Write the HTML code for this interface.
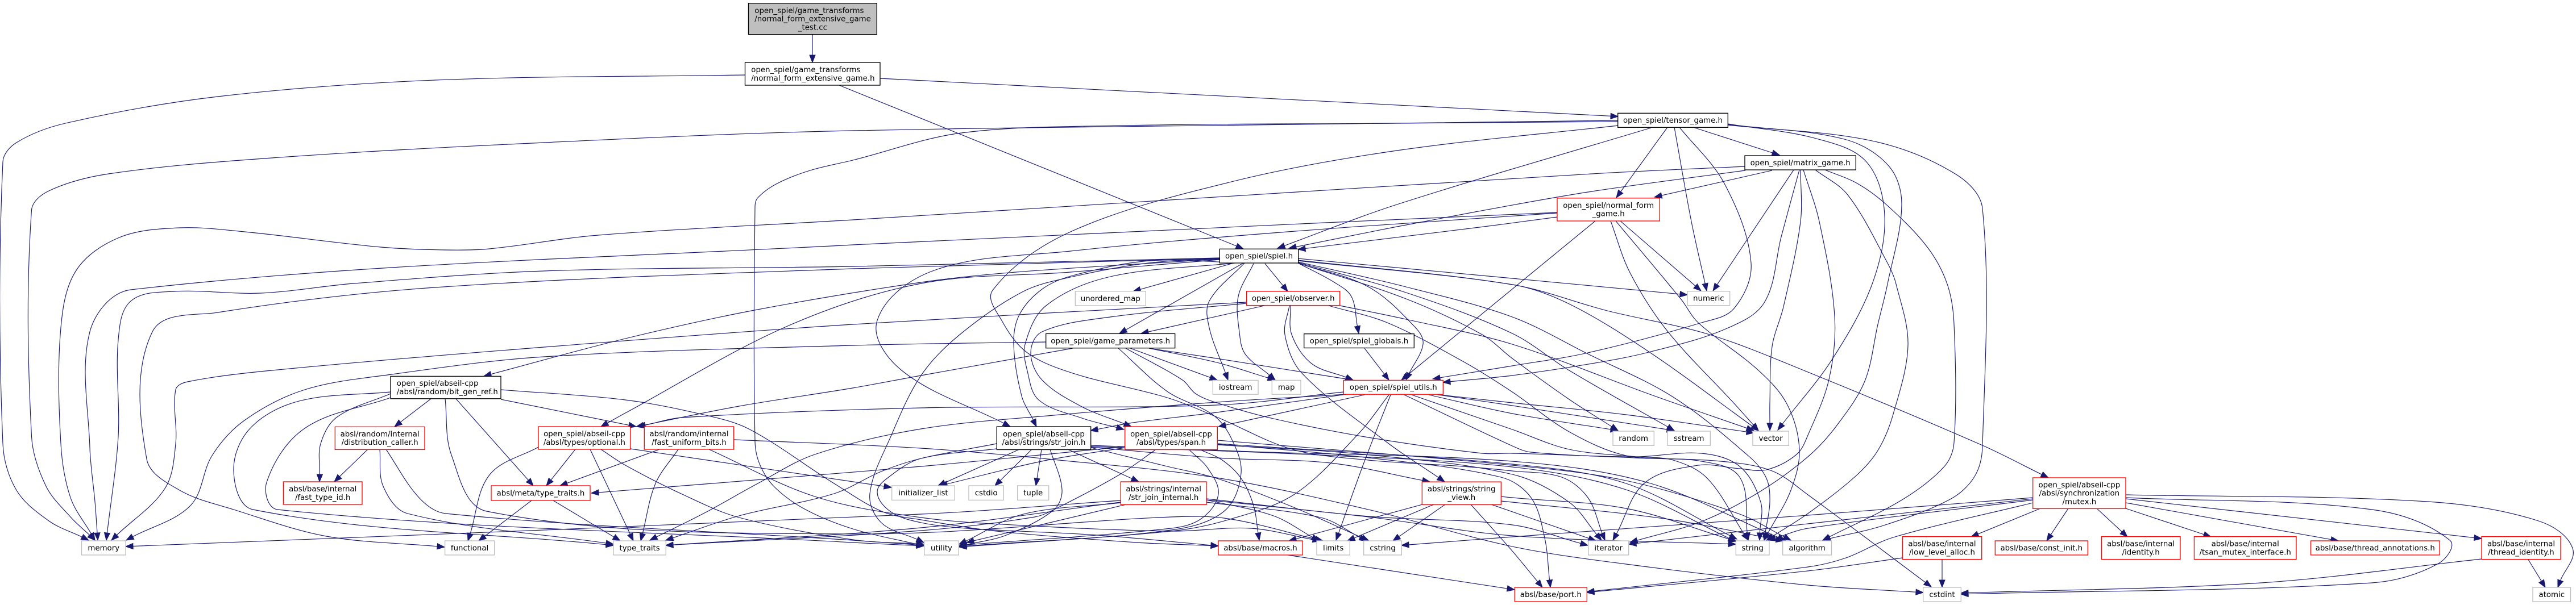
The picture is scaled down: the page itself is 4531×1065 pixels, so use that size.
<!DOCTYPE html>
<html lang="en">
<head>
<meta charset="utf-8">
<title>open_spiel normal_form_extensive_game_test.cc include graph</title>
<style>
html,body{margin:0;padding:0;background:#fff;}
svg{display:block;}
text{font-family:"DejaVu Sans",sans-serif;font-size:13.33px;fill:#000;}
</style>
</head>
<body>
<svg id="graph" xmlns="http://www.w3.org/2000/svg" width="4531" height="1065" viewBox="0 0 4531 1065">
<rect x="0" y="0" width="4531" height="1065" fill="#ffffff"/>
<g id="edges"></g>
<g id="nodes"></g>
</svg>
<script>
// kind: f = focus file (grey fill), k = black border, r = red border (truncated), g = grey border (system header)
const nodes = [
['test',['open_spiel/game_transforms','/normal_form_extensive_game','_test.cc'],'f',1316.5,5.7,1542.3,60.7,'lc'],
['nfeg',['open_spiel/game_transforms','/normal_form_extensive_game.h'],'k',1310.5,110,1548,150,'l'],
['tensor',['open_spiel/tensor_game.h'],'k',2845.7,199.3,3039.3,224.3],
['matrix',['open_spiel/matrix_game.h'],'k',3069,274,3264.3,299],
['normal',['open_spiel/normal_form','_game.h'],'r',2739,348.7,2919.3,389],
['spiel',['open_spiel/spiel.h'],'k',2145.3,438.3,2283.7,463],
['unordered-map',['unordered_map'],'g',1891.3,512.7,2015.3,538],
['observer',['open_spiel/observer.h'],'r',2192.7,512.8,2356.7,537.6],
['numeric',['numeric'],'g',2968,512.7,3042.7,537.7],
['params',['open_spiel/game_parameters.h'],'k',1839.7,587.4,2066.7,612.7],
['globals',['open_spiel/spiel_globals.h'],'k',2293.7,587.7,2487.3,612.5],
['iostream',['iostream'],'g',2133.3,669.4,2213,694.2],
['map',['map'],'g',2237.3,669.4,2288,694.2],
['utils',['open_spiel/spiel_utils.h'],'r',2363.3,669.4,2538.3,694.2],
['bitgen',['open_spiel/abseil-cpp','/absl/random/bit_gen_ref.h'],'k',687,662.4,881,701.8,'l'],
['dist',['absl/random/internal','/distribution_caller.h'],'r',589.3,751.4,747,791.4],
['optional',['open_spiel/abseil-cpp','/absl/types/optional.h'],'r',947,751,1108.8,791],
['fuid',['absl/random/internal','/fast_uniform_bits.h'],'r',1133.3,751,1290.7,791],
['str-join',['open_spiel/abseil-cpp','/absl/strings/str_join.h'],'k',1753.3,751,1918.7,791.5],
['span',['open_spiel/abseil-cpp','/absl/types/span.h'],'r',1978.7,751,2141.3,791.5],
['random',['random'],'g',2837,759,2909.3,784.3],
['sstream',['sstream'],'g',2933,759,3008.3,784.3],
['vector',['vector'],'g',3083,759,3146.3,784.3],
['ftid',['absl/base/internal','/fast_type_id.h'],'r',498.4,848,637,888],
['metatt',['absl/meta/type_traits.h'],'r',864,855,1038,881],
['initlist',['initializer_list'],'g',1568.7,855,1679.3,880.4],
['cstdio',['cstdio'],'g',1704,855,1765.3,880.4],
['tuple',['tuple'],'g',1789.7,855,1844.7,880.4],
['sji',['absl/strings/internal','/str_join_internal.h'],'r',1971.3,848,2122,888.3],
['sv',['absl/strings/string','_view.h'],'r',2501.3,848.2,2640.3,888.2],
['mutex',['open_spiel/abseil-cpp','/absl/synchronization','/mutex.h'],'r',3575.7,841,3739,895.4],
['memory',['memory'],'g',143.5,952,221,977],
['functional',['functional'],'g',782.6,952,869.6,977],
['type-traits',['type_traits'],'g',1079,952,1171.3,977],
['utility',['utility'],'g',1625.7,952,1686.3,977],
['macros',['absl/base/macros.h'],'r',2143,952,2291,977],
['limits',['limits'],'g',2316,952,2374.3,977],
['cstring',['cstring'],'g',2398.7,952,2465.3,977],
['iterator',['iterator'],'g',2793.7,952,2864.7,977],
['string',['string'],'g',3053.3,952,3112,977],
['algorithm',['algorithm'],'g',3135.7,952,3221.5,977],
['lla',['absl/base/internal','/low_level_alloc.h'],'r',3346.3,944.6,3485.7,984.6],
['const-init',['absl/base/const_init.h'],'r',3509.3,952,3672.3,977],
['identity',['absl/base/internal','/identity.h'],'r',3696.3,944.6,3835,984.6],
['tsan',['absl/base/internal','/tsan_mutex_interface.h'],'r',3859.4,944.6,4039,984.6],
['annotations',['absl/base/thread_annotations.h'],'r',4064.5,952,4291,977],
['thread-identity',['absl/base/internal','/thread_identity.h'],'r',4365,944.6,4504,984.6],
['port',['absl/base/port.h'],'r',2664.3,1034,2791.3,1059],
['cstdint',['cstdint'],'g',3382.7,1034,3449.3,1059],
['atomic',['atomic'],'g',4455,1034,4521.5,1059]
];

// each edge: source, target, route through the layout ending at the arrow tip
const edges = [
['test','nfeg',[1429,61,1429,110]],
['nfeg','memory',[1310,132,765,141,383,170,115,217,29,251,5,285,5,781,29,863,86,917,156,951]],
['nfeg','tensor',[1548,138,2846,205]],
['nfeg','spiel',[1476,150,2187,438]],

['tensor','memory',[2846,212,1500,230,957,251,478,278,191,306,86,336,55.5,370,55.5,768,81,856,124,910,167,951]],
['tensor','utility',[2846,214,2457,217,1978,221,1691,234,1500,282,1425,300,1367,323,1333,348,1328,364,1328,777,1337,819,1363,858,1417,897,1500,931,1625,961]],
['tensor','normal',[2933,224,2843,348]],
['tensor','numeric',[2945,224,2975,390,3002,512]],
['tensor','matrix',[2978,224,3130,273]],
['tensor','spiel',[2904,225,2457,360,2247,437]],
['tensor','utils',[2954,224,3033,323,3080,463,3050,543,2993,568,2793,621,2660,644,2520,667]],
['tensor','vector',[3039,218,3195,244,3283,285,3315,380,3293,500,3223,632,3127,757]],
['tensor','iterator',[3039,219,3244,245,3322,292,3345,360,3320,500,3303,571,3280,671,3230,750,3180,804,3093,867,2993,918,2867,955]],
['tensor','algorithm',[3039,220,3293,248,3439,306,3487,367,3487,786,3473,839,3430,879,3313,925,3206,951]],
['tensor','iterator',[2846,221,2457,265,2170,319,1883,408,1746,511,1763,566,1807,621,1887,657,2053,700,2140,734,2273,791,2407,810,2573,821,2660,829,2747,840,2793,876,2823,951]],

['matrix','memory',[3069,293,2800,306,1500,387,1052,414,861,438,784,440,670,435,430,408,316,401,210,418,134,476,107,577,107,781,124,876,167,951]],
['matrix','normal',[3117,300,2910,347]],
['matrix','spiel',[3070,300,2800,337,2600,372,2452,400,2267,437]],
['matrix','numeric',[3155,299,3013,512]],
['matrix','utils',[3165,299,3133,417,3103,533,3033,580,2900,620,2800,640,2660,661,2538,673]],
['matrix','vector',[3167,299,3167,390,3137,540,3117,610,3113,710,3113,758]],
['matrix','iterator',[3172,299,3200,390,3227,557,3217,668,3180,766,3160,800,3107,827,3060,825,2987,819,2893,850,2837,951]],
['matrix','string',[3193,299,3250,343,3320,463,3335,500,3356,607,3330,729,3303,793,3263,839,3180,904,3107,951]],
['matrix','algorithm',[3210,299,3267,323,3320,362,3390,435,3425,500,3437,571,3437,779,3420,821,3347,879,3206,951]],

['normal','numeric',[2850,389,2992,512]],
['normal','vector',[2833,389,2867,480,2933,583,3050,710,3093,758]],
['normal','string',[2842,389,2957,527,2987,568,3093,652,3143,711,3165,791,3150,863,3103,951]],
['normal','utils',[2806,389,2465,669]],
['normal','spiel',[2739,382,2602,400,2283,439]],
['normal','memory',[2739,374,1500,431,230,510,158,584,158,788,167,883,172,951]],
['normal','str-join',[2739,375,2265,408,1883,442,1643,476,1543,564,1586,652,1777,751]],

['spiel','memory',[2145,454,1500,469,957,477,622,499,459,516,306,513,230,530,208,598,208,768,187,951]],
['spiel','functional',[2145,455,1500,473,765,506,383,550,268,584,258,808,316,863,411,897,574,944,782,963]],
['spiel','utility',[2145,455,2020,463,1887,487,1800,513,1687,590,1620,661,1567,768,1530,869,1550,920,1625,955]],
['spiel','bitgen',[2145,456,1787,479,1620,497,1327,546,1100,596,851,662]],
['spiel','optional',[2145,457,1883,479,1620,499,1383,575,1100,727,1057,751]],
['spiel','params',[2187,463,1969,587]],
['spiel','unordered-map',[2170,463,1993,513]],
['spiel','iostream',[2189,463,2127,530,2127,577,2160,669]],
['spiel','map',[2205,464,2178,522,2180,585,2190,623,2243,669]],
['spiel','observer',[2225,464,2265,513]],
['spiel','globals',[2283,463,2347,497,2377,522,2390,587]],
['spiel','utils',[2283,463,2407,505,2490,577,2503,606,2473,669]],
['spiel','numeric',[2283,455,2660,490,2968,519]],
['spiel','mutex',[2283,458,2660,501,2827,547,3007,589,3180,655,3487,784,3603,841]],
['spiel','vector',[2283,459,2660,501,2760,535,2900,619,3093,758]],
['spiel','string',[2283,461,2473,505,2660,558,2793,623,2943,699,3077,804,3107,842,3113,884,3103,951]],
['spiel','sstream',[2283,462,2473,515,2660,587,2760,652,2945,758]],
['spiel','random',[2283,463,2473,526,2607,589,2660,631,2760,703,2846,758]],
['spiel','str-join',[2187,463,2023,459,1887,485,1833,509,1793,554,1783,606,1797,697,1823,751]],
['spiel','span',[2172,463,1953,487,1840,538,1803,606,1807,653,1827,704,1903,736,1977,756]],

['observer','memory',[2192,532,1500,571,957,611,478,652,330,672,309,686,309,781,290,860,196,951]],
['observer','params',[2224,538,2007,587]],
['observer','span',[2192,534,1953,558,1833,584,1813,621,1833,669,1903,716,1990,751]],
['observer','vector',[2357,538,2473,562,2660,606,2910,697,3085,758]],
['observer','string',[2337,538,2440,568,2573,636,2660,690,2760,760,2860,802,2993,812,3060,840,3075,951]],
['observer','utils',[2270,538,2272,589,2307,640,2380,669]],
['observer','sv',[2268,538,2260,589,2290,657,2440,779,2541,848]],

['params','memory',[1840,602,1500,608,957,628,689,659,536,686,430,740,373,802,335,890,222,951]],
['params','iostream',[1988,613,2141,669]],
['params','map',[2021,613,2140,638,2243,669]],
['params','utils',[2021,613,2140,631,2380,669]],
['params','optional',[1887,613,1620,661,1500,683,1300,715,1119,751]],
['params','string',[1980,613,2080,669,2103,693,2140,709,2240,737,2407,770,2607,798,2660,798,2877,804,2993,798,3060,821,3097,884,3095,951]],
['params','utility',[1967,613,2053,689,2133,730,2165,770,2183,833,2153,900,2060,933,1687,962]],
['globals','utils',[2400,613,2443,669]],

['utils','type-traits',[2370,694,2140,708,1853,731,1620,755,1433,800,1333,851,1243,901,1143,951]],
['utils','optional',[2363,690,2140,713,1620,718,1200,735,1122,751]],
['utils','str-join',[2368,694,2140,726,1993,744,1918,758]],
['utils','span',[2400,695,2143,751]],
['utils','limits',[2446,695,2400,812,2350,951]],
['utils','utility',[2443,695,2390,763,2277,870,2160,915,2060,935,1687,963]],
['utils','random',[2513,695,2660,728,2846,758]],
['utils','sstream',[2530,695,2660,714,2945,758]],
['utils','vector',[2533,695,2660,709,2860,730,3085,762]],
['utils','string',[2483,695,2660,756,2760,791,2877,804,2943,810,3003,842,3075,951]],
['utils','cstdint',[2470,695,2660,785,2693,796,2877,806,3027,812,3117,829,3180,871,3397,1033]],

['bitgen','type-traits',[687,690,526,706,440,754,411,829,445,897,1079,960]],
['bitgen','ftid',[687,693,593,734,564,781,562,848]],
['bitgen','utility',[687,700,536,754,469,849,488,897,1500,955,1625,961]],
['bitgen','macros',[881,686,1100,704,1233,729,1317,755,1467,851,1553,901,1620,915,1753,935,2000,955,2143,961]],
['bitgen','fuid',[881,703,1119,751]],
['bitgen','metatt',[802,702,938,855]],
['bitgen','dist',[758,702,694,751]],
['bitgen','limits',[783,702,794,801,856,900,1500,940,2060,910,2160,913,2327,952]],

['dist','ftid',[647,791,588,848]],
['dist','type-traits',[668,791,674,856,717,904,1079,958]],
['dist','utility',[679,791,737,876,784,904,1500,951,1625,960]],

['optional','functional',[947,787,861,836,823,952]],
['optional','metatt',[1012,791,961,855]],
['optional','type-traits',[1038,791,1114,952]],
['optional','initlist',[1109,790,1568,858]],
['optional','utility',[1057,791,1100,819,1200,870,1300,911,1500,950,1625,958]],

['fuid','metatt',[1160,791,985,855]],
['fuid','type-traits',[1193,791,1153,851,1127,952]],
['fuid','limits',[1247,791,1433,874,1620,911,1800,925,2060,935,2200,930,2322,952]],
['fuid','cstdint',[1291,774,1620,789,1853,809,2140,841,2407,897,2660,962,2860,993,3180,1030,3383,1043]],

['metatt','functional',[935,881,842,952]],
['metatt','type-traits',[973,881,1091,952]],

['span','metatt',[1979,786,1620,821,1040,868]],
['span','initlist',[1979,788,1837,811,1653,855]],
['span','type-traits',[2032,792,1970,835,1860,894,1820,910,1620,934,1171,960]],
['span','macros',[2112,792,2150,810,2183,842,2205,890,2215,951]],
['span','utility',[2092,792,2125,825,2143,870,2113,913,2060,930,1687,960]],
['span','algorithm',[2142,775,2660,819,2860,846,3060,905,3150,951]],
['span','string',[2142,781,2660,817,2860,851,3055,949]],
['span','port',[2142,782,2400,805,2640,840,2693,876,2717,947,2727,1034]],
['span','iterator',[2142,783,2400,800,2660,835,2760,884,2817,951]],

['str-join','initlist',[1793,791,1650,855]],
['str-join','cstdio',[1815,791,1750,855]],
['str-join','tuple',[1832,791,1822,855]],
['str-join','sji',[1878,791,2003,848]],
['str-join','utility',[1847,791,1868,862,1853,898,1770,942,1687,962]],
['str-join','sv',[1919,787,2140,806,2340,815,2515,848]],
['str-join','cstring',[1919,788,2053,821,2140,842,2273,892,2408,952]],
['str-join','type-traits',[1753,781,1620,807,1550,830,1467,869,1300,908,1171,951]],
['str-join','macros',[1753,790,1620,807,1567,837,1543,866,1567,901,1620,920,1700,930,1930,942,2143,961]],
['str-join','algorithm',[1919,784,2200,795,2660,812,2900,850,3140,951]],
['str-join','string',[1919,786,2300,800,2660,822,2860,862,3053,953]],

['sji','memory',[1971,881,1620,905,221,962]],
['sji','type-traits',[1971,884,1620,929,1171,960]],
['sji','utility',[1981,888,1700,955]],
['sji','utility',[1971,885,1800,905,1687,958]],
['sji','limits',[2122,880,2240,908,2320,952]],
['sji','cstring',[2122,884,2323,911,2404,952]],
['sji','iterator',[2122,878,2407,909,2660,924,2793,960]],
['sji','string',[2122,880,2407,910,2660,943,3053,958]],

['sv','macros',[2502,888,2267,952]],
['sv','limits',[2522,888,2370,952]],
['sv','cstring',[2542,888,2450,952]],
['sv','port',[2587,888,2660,970,2713,1034]],
['sv','iterator',[2623,888,2807,952]],
['sv','string',[2640,874,2660,876,2860,895,3055,953]],
['sv','algorithm',[2640,882,2660,884,2927,913,3137,952]],

['macros','port',[2265,977,2664,1038]],

['mutex','cstring',[3576,876,3180,907,2660,945,2465,960]],
['mutex','iterator',[3576,878,3180,922,2865,958]],
['mutex','string',[3576,880,3180,930,3110,951]],
['mutex','port',[3576,885,3330,946,3247,982,3180,998,2791,1042]],
['mutex','lla',[3589,895,3467,945]],
['mutex','const-init',[3638,895,3600,952]],
['mutex','identity',[3688,895,3742,945]],
['mutex','tsan',[3739,895,3889,945]],
['mutex','annotations',[3739,885,4113,952]],
['mutex','thread-identity',[3739,878,4365,948]],
['mutex','cstdint',[3739,876,4172,897,4309,951,4289,992,4172,1026,3449,1046]],
['mutex','atomic',[3739,871,4270,883,4465,917,4525,965,4499,1034]],
['lla','port',[3346,982,3180,1005,2791,1043]],
['lla','cstdint',[3416,985,3416,1034]],
['thread-identity','cstdint',[4365,984,3977,1026,3449,1044]],
['thread-identity','atomic',[4447,985,4477,1034]]
];

const SVG_NS = 'http://www.w3.org/2000/svg';
const EDGE_COLOR = '#191970';
const ARROW_LEN = 13;
const ARROW_HALF = 5;
const BORDER = {f:'#000000',k:'#000000',r:'#ff0000',g:'#bfbfbf'};
const edgeLayer = document.getElementById('edges');
const nodeLayer = document.getElementById('nodes');

function smoothPath(p){
  const n = p.length;
  let d = 'M' + p[0][0] + ' ' + p[0][1];
  if(n === 2) return d + 'L' + p[1][0] + ' ' + p[1][1];
  const tan = p.map((q,i)=>{
    const a = p[Math.max(i-1,0)], b = p[Math.min(i+1,n-1)];
    const dx = b[0]-a[0], dy = b[1]-a[1], l = Math.hypot(dx,dy) || 1;
    return [dx/l, dy/l];
  });
  for(let i=0;i<n-1;i++){
    const a = p[i], b = p[i+1];
    const l = Math.hypot(b[0]-a[0], b[1]-a[1]) / 3;
    d += 'C' + (a[0]+tan[i][0]*l).toFixed(1) + ' ' + (a[1]+tan[i][1]*l).toFixed(1) + ' '
       + (b[0]-tan[i+1][0]*l).toFixed(1) + ' ' + (b[1]-tan[i+1][1]*l).toFixed(1) + ' '
       + b[0].toFixed(1) + ' ' + b[1].toFixed(1);
  }
  return d;
}

edges.forEach(function(e){
  const pts = [];
  for(let i=0;i<e[2].length;i+=2) pts.push([e[2][i], e[2][i+1]]);
  const tip = pts[pts.length-1], prev = pts[pts.length-2];
  const dx = tip[0]-prev[0], dy = tip[1]-prev[1], l = Math.hypot(dx,dy) || 1;
  const ux = dx/l, uy = dy/l;
  const base = [tip[0]-ux*ARROW_LEN, tip[1]-uy*ARROW_LEN];
  pts[pts.length-1] = base;
  const g = document.createElementNS(SVG_NS,'g');
  
  
  const path = document.createElementNS(SVG_NS,'path');
  path.setAttribute('d', smoothPath(pts));
  path.setAttribute('fill', 'none');
  path.setAttribute('stroke', EDGE_COLOR);
  path.setAttribute('stroke-width', '1.15');
  const head = document.createElementNS(SVG_NS,'polygon');
  head.setAttribute('points', tip[0] + ',' + tip[1] + ' '
    + (base[0]-uy*ARROW_HALF).toFixed(1) + ',' + (base[1]+ux*ARROW_HALF).toFixed(1) + ' '
    + (base[0]+uy*ARROW_HALF).toFixed(1) + ',' + (base[1]-ux*ARROW_HALF).toFixed(1));
  head.setAttribute('fill', EDGE_COLOR);
  head.setAttribute('stroke', EDGE_COLOR);
  head.setAttribute('stroke-width', '1');
  g.appendChild(path);
  g.appendChild(head);
  edgeLayer.appendChild(g);
});

nodes.forEach(function(n){
  const x0 = n[3], y0 = n[4], x1 = n[5], y1 = n[6], align = n[7] || 'c';
  const g = document.createElementNS(SVG_NS,'g');
  
  
  const r = document.createElementNS(SVG_NS,'rect');
  r.setAttribute('x', x0);
  r.setAttribute('y', y0);
  r.setAttribute('width', x1-x0);
  r.setAttribute('height', y1-y0);
  r.setAttribute('fill', n[2] === 'f' ? '#bfbfbf' : '#ffffff');
  r.setAttribute('stroke', BORDER[n[2]]);
  r.setAttribute('stroke-width', '1.33');
  g.appendChild(r);
  const lines = n[1];
  const first = (y0+y1)/2 - (lines.length-1)*7.4 + 4.4;
  lines.forEach(function(s,i){
    const t = document.createElementNS(SVG_NS,'text');
    const left = align === 'l' || (align === 'lc' && i < lines.length-1);
    t.setAttribute('x', left ? x0+10.8 : (x0+x1)/2);
    t.setAttribute('y', (first + i*14.8).toFixed(1));
    t.setAttribute('text-anchor', left ? 'start' : 'middle');
    
    
    t.textContent = s;
    g.appendChild(t);
  });
  nodeLayer.appendChild(g);
});
</script>
</body>
</html>
